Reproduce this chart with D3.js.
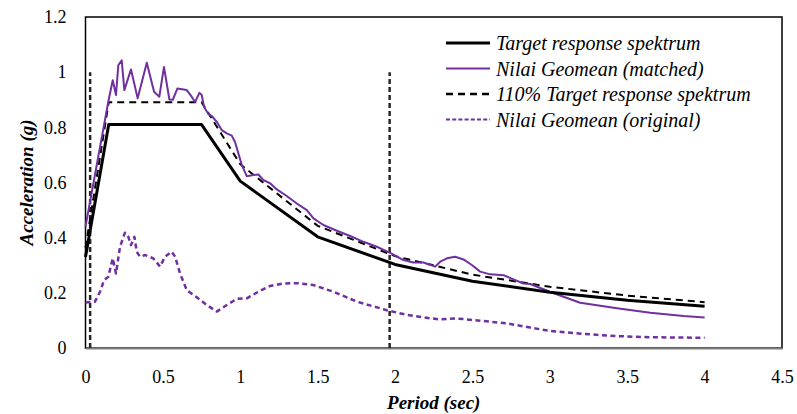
<!DOCTYPE html>
<html>
<head>
<meta charset="utf-8">
<script src="https://cdn.jsdelivr.net/npm/d3@7"></script>
<style>
  body { margin: 0; background: #fff; }
</style>
</head>
<body>
<div id="chart"></div>
<script>
// target response spectrum (corner points)
const targetPeriod = [0, 0.15, 0.75, 1, 1.5, 2, 2.5, 3, 3.5, 4];
const targetAcc = [0.33, 0.81, 0.81, 0.605, 0.403, 0.303, 0.242, 0.202, 0.173, 0.151];
const target110Acc = [0.363, 0.891, 0.891, 0.666, 0.443, 0.333, 0.266, 0.222, 0.19, 0.166];

// geomean after matching
const matchedPeriod = [0, 0.147, 0.176, 0.197, 0.212, 0.234, 0.251, 0.294, 0.337, 0.396, 0.443, 0.477,
  0.507, 0.542, 0.564, 0.594, 0.654, 0.686, 0.708, 0.736, 0.751, 0.766, 0.794, 0.816, 0.848, 0.88,
  0.913, 0.945, 0.966, 0.988, 1.01, 1.042, 1.085, 1.117, 1.149, 1.193, 1.236, 1.3, 1.365, 1.43,
  1.473, 1.537, 1.624, 1.71, 1.796, 1.882, 1.968, 2.054, 2.119, 2.184, 2.259, 2.292, 2.335, 2.388,
  2.442, 2.496, 2.55, 2.615, 2.701, 2.765, 2.83, 2.873, 2.959, 3.0, 3.088, 3.196, 3.434, 3.649, 3.864, 4.0];
const matchedAcc = [0.44, 0.892, 0.971, 0.917, 1.025, 1.043, 0.935, 1.01, 0.905, 1.034, 0.929, 0.911,
  1.019, 0.901, 0.9, 0.941, 0.935, 0.911, 0.892, 0.925, 0.917, 0.874, 0.848, 0.841, 0.82, 0.79,
  0.778, 0.77, 0.747, 0.705, 0.663, 0.623, 0.627, 0.629, 0.609, 0.597, 0.575, 0.551, 0.524, 0.5,
  0.47, 0.446, 0.425, 0.406, 0.385, 0.367, 0.345, 0.319, 0.31, 0.31, 0.295, 0.313, 0.325, 0.331,
  0.321, 0.301, 0.277, 0.267, 0.264, 0.249, 0.234, 0.232, 0.213, 0.204, 0.186, 0.164, 0.144, 0.128, 0.116, 0.111];

// geomean of original records
const originalPeriod = [0, 0.061, 0.094, 0.12, 0.147, 0.176, 0.197, 0.223, 0.255, 0.277, 0.294, 0.316,
  0.331, 0.352, 0.385, 0.438, 0.482, 0.514, 0.557, 0.579, 0.611, 0.654, 0.719, 0.783, 0.848, 0.913,
  0.977, 1.042, 1.117, 1.193, 1.279, 1.373, 1.473, 1.602, 1.753, 1.947, 2.076, 2.184, 2.281, 2.399,
  2.55, 2.723, 2.873, 3.0, 3.218, 3.434, 3.649, 4.0];
const originalAcc = [0.165, 0.168, 0.204, 0.246, 0.258, 0.325, 0.27, 0.367, 0.418, 0.403, 0.373, 0.403,
  0.349, 0.331, 0.337, 0.325, 0.295, 0.331, 0.349, 0.331, 0.27, 0.21, 0.184, 0.156, 0.132, 0.156,
  0.178, 0.18, 0.204, 0.225, 0.234, 0.235, 0.228, 0.204, 0.168, 0.137, 0.12, 0.111, 0.104, 0.107,
  0.099, 0.089, 0.074, 0.062, 0.051, 0.043, 0.039, 0.037];

// period limits (vertical markers)
const limitPeriods = [0.03, 1.965];
const limitTop = 1.0;

const xTicks = [0, 0.5, 1, 1.5, 2, 2.5, 3, 3.5, 4, 4.5];
const yTicks = [0, 0.2, 0.4, 0.6, 0.8, 1, 1.2];

const legendLabels = [
  "Target response spektrum",
  "Nilai Geomean (matched)",
  "110% Target response spektrum",
  "Nilai Geomean (original)"
];

const fontFamily = "'Liberation Serif', 'Times New Roman', serif";
const width = 797, height = 414;
const margin = { top: 17, right: 15, bottom: 66, left: 85.5 };
const innerWidth = width - margin.left - margin.right;
const innerHeight = height - margin.top - margin.bottom;
const purple = "#7030a0";

const svg = d3.select("#chart").append("svg")
  .attr("width", width)
  .attr("height", height)
  .attr("font-family", fontFamily)
  .style("display", "block");

const g = svg.append("g")
  .attr("transform", `translate(${margin.left},${margin.top})`);

const x = d3.scaleLinear().domain([0, 4.5]).range([0, innerWidth]);
const y = d3.scaleLinear().domain([0, 1.2]).range([innerHeight, 0]);

// frame
g.append("rect")
  .attr("width", innerWidth)
  .attr("height", innerHeight)
  .attr("fill", "none")
  .attr("stroke", "#000")
  .attr("stroke-width", 1.5);

g.append("g")
  .attr("transform", `translate(0,${innerHeight})`)
  .call(d3.axisBottom(x).tickValues(xTicks).tickFormat(d3.format("~g")).tickSize(0).tickPadding(22))
  .attr("font-family", fontFamily)
  .attr("font-size", 18)
  .call(a => a.select(".domain").attr("stroke", "#7f7f7f").attr("stroke-width", 2))
  .call(a => a.selectAll("text").attr("fill", "#000"));

g.append("g")
  .call(d3.axisLeft(y).tickValues(yTicks).tickFormat(d3.format("~g")).tickSize(0).tickPadding(19))
  .attr("font-family", fontFamily)
  .attr("font-size", 18)
  .call(a => a.select(".domain").remove())
  .call(a => a.selectAll("text").attr("fill", "#000"));

// vertical period limits
g.selectAll(".limit")
  .data(limitPeriods)
  .enter()
  .append("line")
  .attr("class", "limit")
  .attr("x1", d => x(d)).attr("x2", d => x(d))
  .attr("y1", y(0)).attr("y2", y(limitTop))
  .attr("stroke", "#262626")
  .attr("stroke-width", 2.5)
  .attr("stroke-dasharray", "5,3");

const line = d3.line().x(d => x(d[0])).y(d => y(d[1]));
const zip = (a, b) => a.map((v, i) => [v, b[i]]);

const series = [
  { pts: zip(originalPeriod, originalAcc), color: purple, w: 2.5, dash: "5,3.5" },
  { pts: zip(targetPeriod, target110Acc), color: "#000", w: 2, dash: "7,5" },
  { pts: zip(matchedPeriod, matchedAcc), color: purple, w: 2, dash: null },
  { pts: zip(targetPeriod, targetAcc), color: "#000", w: 3, dash: null }
];

series.forEach(s => {
  g.append("path")
    .attr("d", line(s.pts))
    .attr("fill", "none")
    .attr("stroke", s.color)
    .attr("stroke-width", s.w)
    .attr("stroke-linejoin", "round")
    .attr("stroke-dasharray", s.dash);
});

// legend
const legendStyles = [
  { color: "#000", w: 3, dash: null },
  { color: purple, w: 2, dash: null },
  { color: "#000", w: 2.5, dash: "7,5" },
  { color: purple, w: 2, dash: "4,2.2" }
];
const legend = svg.append("g").attr("transform", "translate(446,43)");
legendLabels.forEach((label, i) => {
  const row = legend.append("g").attr("transform", `translate(0,${i * 25.5})`);
  row.append("line")
    .attr("x1", 0).attr("x2", 44)
    .attr("stroke", legendStyles[i].color)
    .attr("stroke-width", legendStyles[i].w)
    .attr("stroke-dasharray", legendStyles[i].dash);
  row.append("text")
    .attr("x", 50)
    .attr("dy", "0.35em")
    .attr("font-size", 20)
    .attr("font-style", "italic")
    .text(label);
});

// axis titles
svg.append("text")
  .attr("x", margin.left + x(2.25))
  .attr("y", 409)
  .attr("text-anchor", "middle")
  .attr("font-size", 19)
  .attr("font-weight", "bold")
  .attr("font-style", "italic")
  .text("Period (sec)");

svg.append("text")
  .attr("transform", `translate(33,${margin.top + innerHeight / 2}) rotate(-90)`)
  .attr("text-anchor", "middle")
  .attr("font-size", 19)
  .attr("font-weight", "bold")
  .attr("font-style", "italic")
  .text("Acceleration (g)");
</script>
</body>
</html>
